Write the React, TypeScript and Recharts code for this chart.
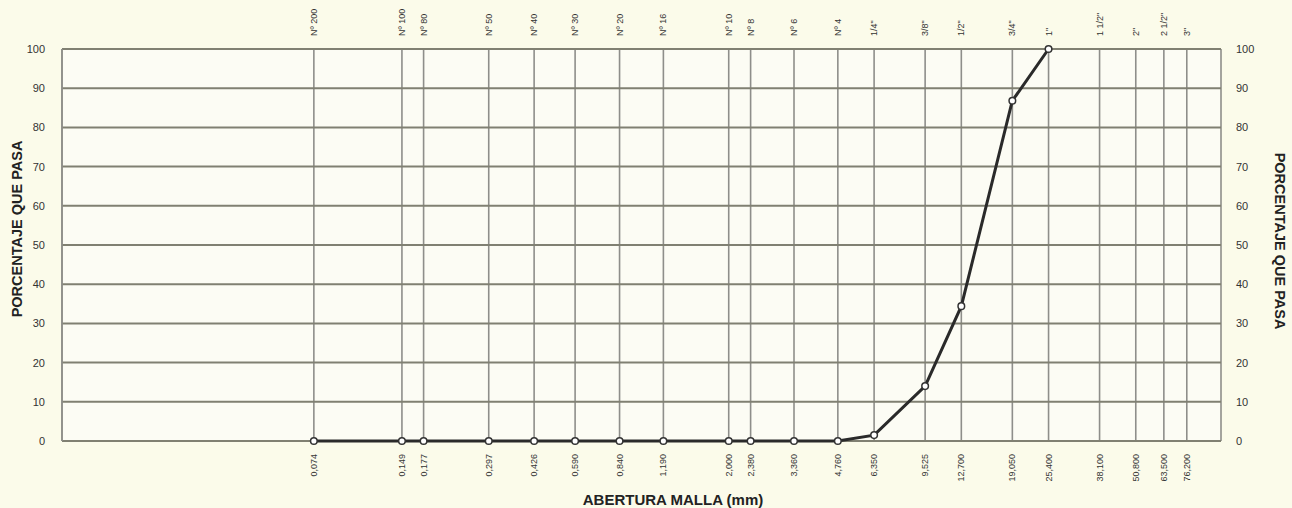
import { LineChart, Line, XAxis, YAxis, CartesianGrid } from 'recharts';

// sieve openings (mm), log scale
const sizes = [0.074, 0.149, 0.177, 0.297, 0.426, 0.59, 0.84, 1.19, 2.0, 2.38, 3.36, 4.76, 6.35, 9.525, 12.7, 19.05, 25.4, 38.1, 50.8, 63.5, 76.2];
const sizeLabels = ['0,074', '0,149', '0,177', '0,297', '0,426', '0,590', '0,840', '1,190', '2,000', '2,380', '3,360', '4,760', '6,350', '9,525', '12,700', '19,050', '25,400', '38,100', '50,800', '63,500', '76,200'];
const sieveNames = ['Nº 200', 'Nº 100', 'Nº 80', 'Nº 50', 'Nº 40', 'Nº 30', 'Nº 20', 'Nº 16', 'Nº 10', 'Nº 8', 'Nº 6', 'Nº 4', '1/4"', '3/8"', '1/2"', '3/4"', '1"', '1 1/2"', '2"', '2 1/2"', '3"'];

// measured points (percent passing)
const openings = [0.074, 0.149, 0.177, 0.297, 0.426, 0.59, 0.84, 1.19, 2.0, 2.38, 3.36, 4.76, 6.35, 9.525, 12.7, 19.05, 25.4];
const passing = [0, 0, 0, 0, 0, 0, 0, 0, 0, 0, 0, 0, 1.5, 14, 34.4, 86.8, 100];

const yTicks = [0, 10, 20, 30, 40, 50, 60, 70, 80, 90, 100];

const data = openings.map((x, i) => ({ x, p: passing[i] }));

const FONT = '"Liberation Sans", Arial, sans-serif';

function BottomTick(props: any) {
    const { x, y, payload } = props;
    const i = sizes.indexOf(payload.value);
    const ty = y + 5;
    return (
        <text
            x={x}
            y={ty}
            transform={`rotate(-90 ${x} ${ty})`}
            textAnchor="end"
            dominantBaseline="central"
            fontSize={9}
            fill="#333"
            fontFamily={FONT}
        >
            {sizeLabels[i]}
        </text>
    );
}

function TopTick(props: any) {
    const { x, y, payload } = props;
    const i = sizes.indexOf(payload.value);
    const ty = y - 5;
    return (
        <text
            x={x}
            y={ty}
            transform={`rotate(-90 ${x} ${ty})`}
            textAnchor="start"
            dominantBaseline="central"
            fontSize={9}
            fill="#333"
            fontFamily={FONT}
        >
            {sieveNames[i]}
        </text>
    );
}

function LeftTick(props: any) {
    const { x, y, payload } = props;
    return (
        <text x={x - 9} y={y} textAnchor="end" dominantBaseline="central" fontSize={11} fill="#333" fontFamily={FONT}>
            {payload.value}
        </text>
    );
}

function RightTick(props: any) {
    const { x, y, payload } = props;
    return (
        <text x={x + 7} y={y} textAnchor="start" dominantBaseline="central" fontSize={11} fill="#333" fontFamily={FONT}>
            {payload.value}
        </text>
    );
}

export default function App() {
    return (
        <div style={{ position: 'absolute', left: 0, top: 0, width: 1292, height: 508, background: '#fbfbea' }}>
            <LineChart width={1292} height={508} data={data} margin={{ top: 0, right: 0, bottom: 0, left: 0 }}>
                <CartesianGrid horizontal={false} stroke="#8e8e8a" strokeWidth={1.6} fill="#fcfcf4" />
                <CartesianGrid vertical={false} stroke="#808072" strokeWidth={2} />
                <XAxis
                    dataKey="x"
                    type="number"
                    scale="log"
                    domain={[0.01, 100]}
                    allowDataOverflow
                    ticks={sizes}
                    interval={0}
                    height={67}
                    axisLine={false}
                    tickLine={false}
                    tick={<BottomTick />}
                    label={{
                        content: () => (
                            <text x={673} y={505} textAnchor="middle" fontSize={15} fontWeight="bold" fill="#222" fontFamily={FONT}>
                                ABERTURA MALLA (mm)
                            </text>
                        ),
                    }}
                />
                <XAxis
                    xAxisId="top"
                    dataKey="x"
                    orientation="top"
                    type="number"
                    scale="log"
                    domain={[0.01, 100]}
                    allowDataOverflow
                    ticks={sizes}
                    interval={0}
                    height={49}
                    axisLine={false}
                    tickLine={false}
                    tick={<TopTick />}
                />
                <YAxis
                    type="number"
                    domain={[0, 100]}
                    ticks={yTicks}
                    interval={0}
                    width={62}
                    axisLine={{ stroke: '#8e8e8a', strokeWidth: 1.6 }}
                    tickLine={false}
                    tick={<LeftTick />}
                    label={{
                        content: () => (
                            <text
                                x={17}
                                y={229}
                                transform="rotate(-90 17 229)"
                                textAnchor="middle"
                                dominantBaseline="central"
                                fontSize={14.5}
                                fontWeight="bold"
                                fill="#222"
                                fontFamily={FONT}
                            >
                                PORCENTAJE QUE PASA
                            </text>
                        ),
                    }}
                />
                <YAxis
                    yAxisId="right"
                    orientation="right"
                    type="number"
                    domain={[0, 100]}
                    ticks={yTicks}
                    interval={0}
                    width={71}
                    axisLine={false}
                    tickLine={false}
                    tick={<RightTick />}
                    label={{
                        content: () => (
                            <text
                                x={1280}
                                y={241}
                                transform="rotate(90 1280 241)"
                                textAnchor="middle"
                                dominantBaseline="central"
                                fontSize={14.5}
                                fontWeight="bold"
                                fill="#222"
                                fontFamily={FONT}
                            >
                                PORCENTAJE QUE PASA
                            </text>
                        ),
                    }}
                />
                {/* mirror series so the top and right axes get their scales */}
                <Line
                    xAxisId="top"
                    yAxisId="right"
                    dataKey="p"
                    stroke="none"
                    dot={false}
                    activeDot={false}
                    legendType="none"
                    isAnimationActive={false}
                />
                <Line
                    dataKey="p"
                    type="linear"
                    stroke="#2a2a2a"
                    strokeWidth={3}
                    dot={{ r: 3.3, fill: '#fff', stroke: '#333', strokeWidth: 1.5 }}
                    isAnimationActive={false}
                />
            </LineChart>
        </div>
    );
}
